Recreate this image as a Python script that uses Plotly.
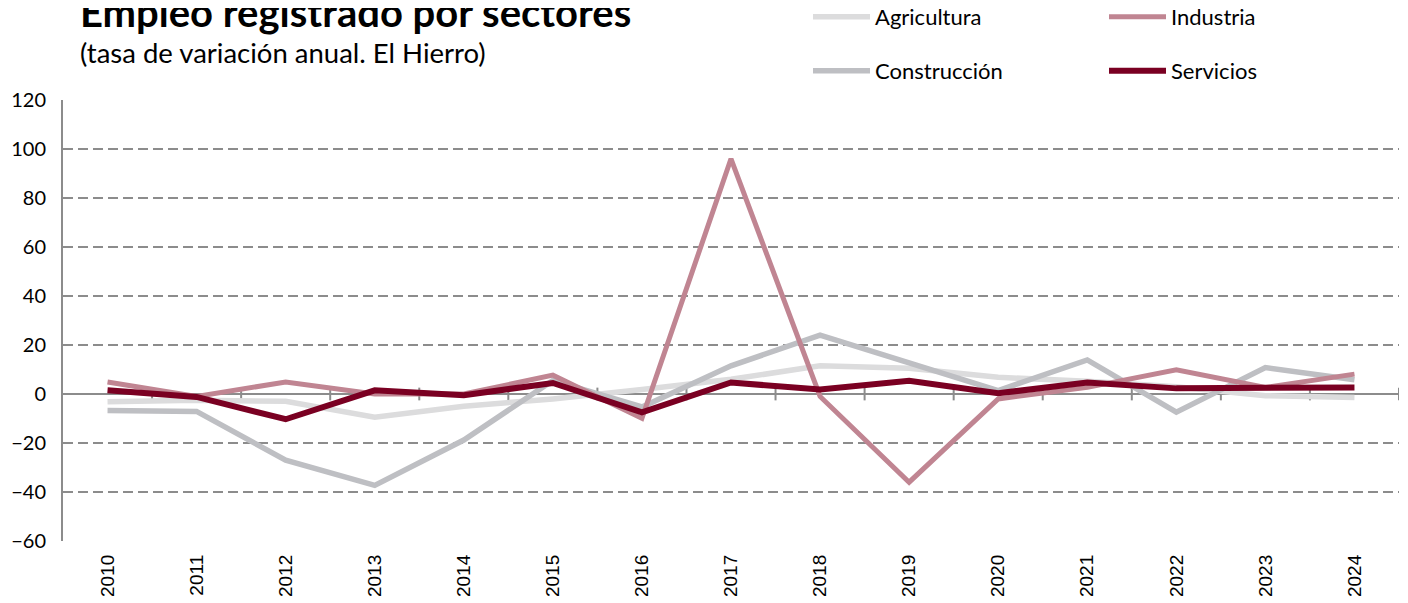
import plotly.graph_objects as go

years = [str(y) for y in range(2010, 2025)]
agricultura = [-3.2, -2.5, -3.0, -9.5, -5.0, -2.0, 1.8, 6.0, 11.5, 10.5, 6.8, 5.2, 3.0, -0.7, -1.4]
construccion = [-6.7, -7.1, -27.0, -37.3, -18.8, 5.5, -5.3, 11.5, 24.0, 12.8, 1.4, 13.9, -7.4, 10.8, 5.8]
industria = [4.9, -1.0, 4.9, 0.0, 0.0, 7.7, -9.9, 96.0, -1.0, -36.0, -2.0, 2.7, 9.9, 2.7, 8.1]
servicios = [1.5, -1.2, -10.3, 1.5, -0.5, 4.5, -7.5, 4.7, 1.8, 5.4, 0.3, 4.7, 2.3, 2.3, 2.7]
yticks = [-60, -40, -20, 0, 20, 40, 60, 80, 100, 120]

FONT = "Lato"
fig = go.Figure()

series = [
    ("Agricultura", agricultura, "#dcdcdd", 5.5, "legend", 1),
    ("Construcción", construccion, "#bebfc3", 5.5, "legend2", 3),
    ("Industria", industria, "#c08592", 5, "legend", 2),
    ("Servicios", servicios, "#7a0022", 6, "legend2", 4),
]
for name, vals, col, w, lg, rank in series:
    fig.add_trace(go.Scatter(
        x=list(range(len(years))), y=vals, name=name, mode="lines",
        line=dict(color=col, width=w), legend=lg, legendrank=rank,
    ))

# zero axis line with crossing ticks at category boundaries
shapes = [dict(type="line", xref="paper", yref="y", x0=0, x1=1, y0=0, y1=0,
               line=dict(color="#8c8c8c", width=2), layer="below")]
for i in range(len(years)):
    b = i + 0.5
    shapes.append(dict(type="line", xref="x", yref="y", x0=b, x1=b, y0=-2.6, y1=2.6,
                       line=dict(color="#8c8c8c", width=2), layer="below"))

PW = 1336.0
PH = 441.0

legend_common = dict(orientation="h", xanchor="left", yanchor="middle",
                     font=dict(family=FONT, size=22, color="#000000"),
                     entrywidth=224, entrywidthmode="pixels", itemwidth=57,
                     bgcolor="rgba(0,0,0,0)", traceorder="normal")

fig.update_layout(
    width=1400, height=595,
    margin=dict(l=55, r=9, t=92, b=62, autoexpand=False),
    paper_bgcolor="white", plot_bgcolor="white",
    shapes=shapes,
    legend=dict(x=(808 - 63) / PW, y=(541 - 17) / PH, **legend_common),
    legend2=dict(x=(808 - 63) / PW, y=(541 - 71) / PH, **legend_common),
    xaxis=dict(
        range=[-0.5, len(years) - 0.5],
        tickmode="array", tickvals=list(range(len(years))), ticktext=years,
        tickangle=-90, tickfont=dict(family="Liberation Sans", size=19, color="#000000"),
        showgrid=False, zeroline=False, showline=False, ticks="",
        ticklabelstandoff=9,
    ),
    yaxis=dict(
        range=[-60, 120], tickvals=yticks,
        tickfont=dict(family=FONT, size=20, color="#000000"),
        showgrid=True, gridcolor="#8c8c8c", griddash="10px,5px", gridwidth=2,
        zeroline=False, showline=True, linecolor="#8c8c8c", linewidth=2,
        ticks="", ticklabelstandoff=11,
    ),
    annotations=[
        dict(text="<b>Empleo registrado por sectores</b>", xref="paper", yref="paper",
             x=(78 - 63) / PW, y=(541 - 12) / PH, xanchor="left", yanchor="middle",
             showarrow=False, font=dict(family=FONT, size=40, color="#000000")),
        dict(text="(tasa de variación anual. El Hierro)", xref="paper", yref="paper",
             x=(78 - 63) / PW, y=(541 - 52) / PH, xanchor="left", yanchor="middle",
             showarrow=False, font=dict(family=FONT, size=27.5, color="#000000")),
    ],
    showlegend=True,
)

fig.write_html("out.html")
